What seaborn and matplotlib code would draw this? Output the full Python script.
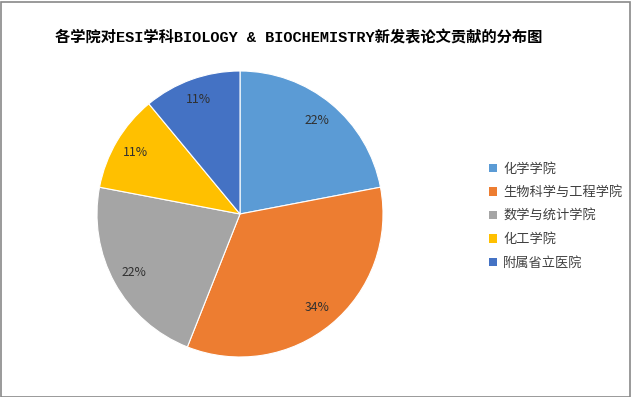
import matplotlib
matplotlib.use("Agg")
import matplotlib.pyplot as plt
import seaborn as sns
from matplotlib.patches import Rectangle, Patch

sns.set_theme(style="white")
plt.rcParams['font.family'] = ['Noto Sans CJK SC', 'DejaVu Sans']

title = "各学院对ESI学科BIOLOGY & BIOCHEMISTRY新发表论文贡献的分布图"
categories = ["化学学院", "生物科学与工程学院", "数学与统计学院", "化工学院", "附属省立医院"]
values = [22, 34, 22, 11, 11]
colors = ["#5B9BD5", "#ED7D31", "#A5A5A5", "#FFC000", "#4472C4"]

W, H = 632, 397
fig = plt.figure(figsize=(W / 100, H / 100), dpi=100)
fig.patch.set_facecolor("white")

cx, cy, r = 240, 214, 143
ax = fig.add_axes([(cx - r) / W, (H - cy - r) / H, 2 * r / W, 2 * r / H])
wedges, texts, autotexts = ax.pie(
    values, colors=colors, startangle=90, counterclock=False,
    autopct=lambda p: f"{p:.0f}%", pctdistance=0.85,
    wedgeprops=dict(linewidth=0.8, edgecolor="white"),
    textprops=dict(fontsize=8.8, color="#303030"),
)
ax.set_xlim(-1, 1)
ax.set_ylim(-1, 1)
ax.set_aspect("equal")
ax.axis("off")

fig.text(55 / W, 1 - 38 / H, title, fontsize=11, fontweight="bold",
         ha="left", va="center", color="black",
         family=['Liberation Mono', 'Noto Sans CJK SC'])

handles = [Patch(facecolor=c, edgecolor="none") for c in colors]
leg = fig.legend(handles, categories, loc="upper left",
                 bbox_to_anchor=(482 / W, 1 - 156 / H), frameon=False,
                 fontsize=9.5, handlelength=0.6, handleheight=0.6,
                 handletextpad=0.5, labelspacing=0.8, borderpad=0)
for t in leg.get_texts():
    t.set_color("#404040")

fig.add_artist(Rectangle((0.5 / W, 0.5 / H), 1 - 2.5 / W, 1 - 2.5 / H,
                         transform=fig.transFigure, fill=False,
                         edgecolor="#898989", linewidth=1.2))

fig.savefig("out.png", dpi=100)
